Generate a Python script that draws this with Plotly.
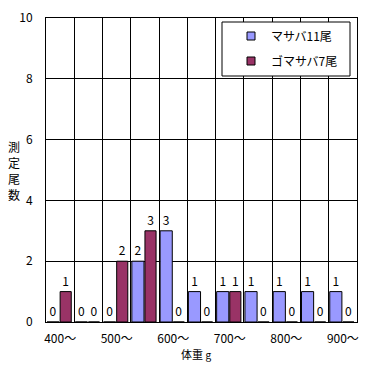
import plotly.graph_objects as go

categories = ["400～", "450～", "500～", "550～", "600～", "650～", "700～", "750～", "800～", "850～", "900～"]
tick_labels = ["400～", "", "500～", "", "600～", "", "700～", "", "800～", "", "900～"]
masaba = [0, 0, 0, 2, 3, 1, 1, 1, 1, 1, 1]
gomasaba = [1, 0, 2, 3, 0, 0, 1, 0, 0, 0, 0]
name_masaba = "マサバ11尾"
name_gomasaba = "ゴマサバ7尾"
y_title_chars = ["測", "定", "尾", "数"]
x_title = "体重 <span style='font-size:10px'>g</span>"

FONT = "Noto Sans CJK JP"
BLUE = "#9999FF"
MAROON = "#993366"

# page has an 8px body margin; figure is sized/margined to compensate
W, H = 367, 358
ML, MR, MT, MB = 38, 18, 10, 44
PW, PH = W - ML - MR, H - MT - MB  # plot area 311 x 304


def px_x(x):  # page pixel -> paper x
    return (x - 8 - ML) / PW


def px_y(y):  # page pixel -> paper y
    return (H - MB + 8 - y) / PH


fig = go.Figure()
fig.add_trace(go.Bar(
    x=categories, y=masaba, name=name_masaba, showlegend=False,
    offset=-0.464, width=0.43,
    marker=dict(color=BLUE, line=dict(color="black", width=1)),
    text=[str(v) for v in masaba], textposition="outside",
    textfont=dict(size=12, color="black", family=FONT), cliponaxis=False,
))
fig.add_trace(go.Bar(
    x=categories, y=gomasaba, name=name_gomasaba, showlegend=False,
    offset=0.0, width=0.393,
    marker=dict(color=MAROON, line=dict(color="black", width=1)),
    text=[str(v) for v in gomasaba], textposition="outside",
    textfont=dict(size=12, color="black", family=FONT), cliponaxis=False,
))
# legend-only entries with small square symbols
for nm, col, grp in [(name_masaba, BLUE, "a"), (name_gomasaba, MAROON, "b")]:
    fig.add_trace(go.Scatter(
        x=[None], y=[None], mode="markers", name=nm, legendgroup=grp,
        marker=dict(symbol="square", size=8, color=col, line=dict(color="black", width=1)),
    ))

annotations = []
for i, ch in enumerate(y_title_chars):
    annotations.append(dict(
        text=ch, xref="paper", yref="paper",
        x=px_x(14), y=px_y(146 + 16 * i), showarrow=False,
        font=dict(size=12), xanchor="center", yanchor="middle",
        width=14, height=16, align="center", valign="middle"))
annotations.append(dict(
    text=x_title, xref="paper", yref="paper",
    x=px_x(196), y=px_y(354), showarrow=False, font=dict(size=11),
    xanchor="center", yanchor="middle"))

fig.update_layout(
    width=W, height=H,
    margin=dict(l=ML, r=MR, t=MT, b=MB),
    paper_bgcolor="white", plot_bgcolor="white",
    barmode="overlay",
    font=dict(family=FONT, size=12, color="black"),
    showlegend=True,
    legend=dict(
        x=px_x(231), y=px_y(21.5), xanchor="left", yanchor="top",
        bgcolor="rgba(0,0,0,0)", borderwidth=0,
        tracegroupgap=6, font=dict(size=12), itemwidth=30,
    ),
    xaxis=dict(
        type="category", tickson="boundaries",
        tickvals=categories, ticktext=tick_labels, tickangle=0,
        showgrid=True, gridcolor="black", gridwidth=1,
        showline=True, linecolor="black", linewidth=1, mirror=True,
        ticks="", ticklabelstandoff=6, automargin=False,
        range=[-0.5, 10.5],
    ),
    yaxis=dict(
        range=[0, 10], dtick=2, tick0=0,
        showgrid=True, gridcolor="black", gridwidth=1,
        showline=True, linecolor="black", linewidth=1, mirror=True,
        ticks="", ticklabelstandoff=10, zeroline=False, automargin=False,
    ),
    shapes=[dict(
        type="rect", xref="paper", yref="paper",
        x0=px_x(222), x1=px_x(350), y0=px_y(76), y1=px_y(22),
        line=dict(color="black", width=1), fillcolor="white", layer="above",
    )],
    annotations=annotations,
)

fig.write_html("out.html")
